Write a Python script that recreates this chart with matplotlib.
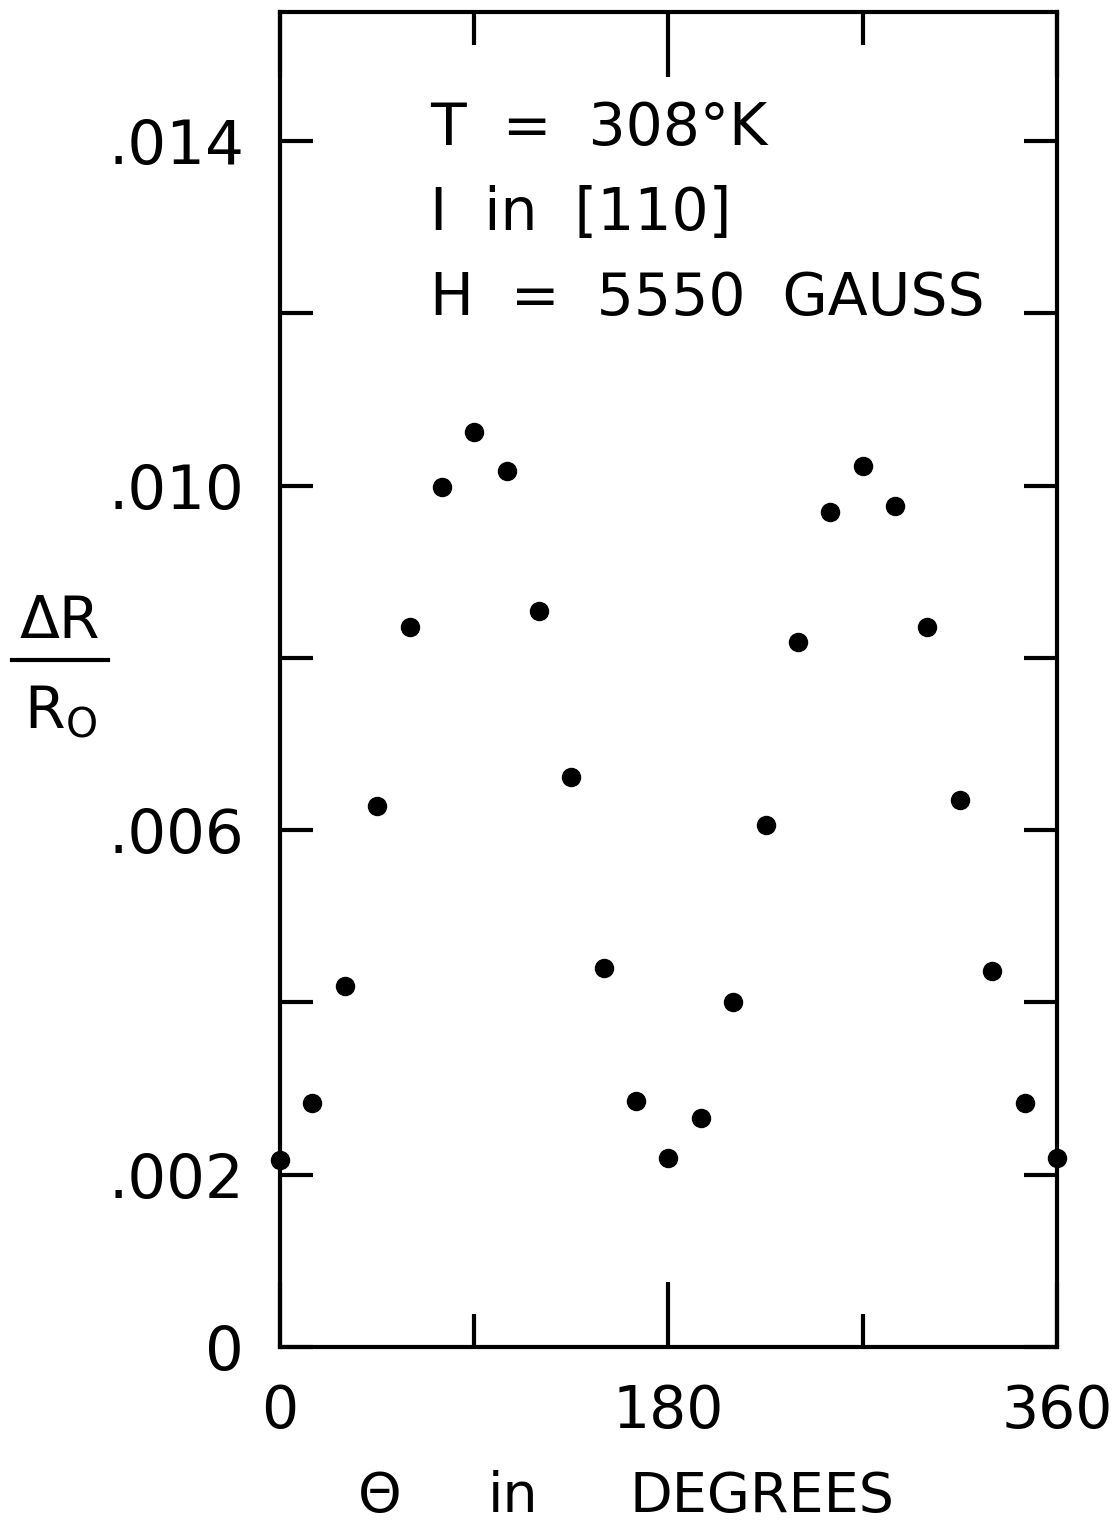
import numpy as np
import matplotlib.pyplot as plt
from matplotlib.lines import Line2D

# angle theta in degrees, every 15 deg
theta = [0, 15, 30, 45, 60, 75, 90, 105, 120, 135, 150, 165, 180,
         195, 210, 225, 240, 255, 270, 285, 300, 315, 330, 345, 360]
# delta R / R0
dR = [0.00217, 0.00283, 0.00419, 0.00628, 0.00836, 0.00998, 0.01062, 0.01017,
      0.00854, 0.00662, 0.00440, 0.00286, 0.00220, 0.00266, 0.00400, 0.00606,
      0.00818, 0.00969, 0.01023, 0.00977, 0.00836, 0.00635, 0.00436, 0.00283,
      0.00220]

yticks = [0, 0.002, 0.004, 0.006, 0.008, 0.010, 0.012, 0.014]
ylabels = ['0', '.002', '', '.006', '', '.010', '', '.014']
xticks = [0, 180, 360]
xlabels = ['0', '180', '360']
xminor = [90, 270]

W, H = 1114, 1525
fig = plt.figure(figsize=(W / 100, H / 100), dpi=100)
ax = fig.add_axes([280 / W, 1 - 1347 / H, (1057 - 280) / W, (1347 - 12) / H])

ax.plot(theta, dR, 'o', color='black', markersize=13, clip_on=False, zorder=5)

ax.set_xlim(0, 360)
ax.set_ylim(0, 0.0155)

for s in ax.spines.values():
    s.set_linewidth(3)

ax.set_xticks(xticks)
ax.set_xticklabels(xlabels, fontsize=42)
ax.set_xticks(xminor, minor=True)
ax.set_yticks(yticks)
ax.set_yticklabels(ylabels, fontsize=44)
ax.tick_params(axis='x', which='major', direction='in', length=47, width=3,
               top=True, pad=26)
ax.tick_params(axis='x', which='minor', direction='in', length=24, width=3,
               top=True)
ax.tick_params(axis='y', which='major', direction='in', length=24, width=3,
               right=True, pad=26)
ax.tick_params(axis='y', which='minor', left=False, right=False)

# y label as a stacked fraction
fig.text(60 / W, 1 - 622 / H, '\u0394R', fontsize=42, ha='center', va='center')
fig.add_artist(Line2D([12 / W, 108 / W], [1 - 660 / H, 1 - 660 / H],
                      color='black', linewidth=3, transform=fig.transFigure))
fig.text(60 / W, 1 - 712 / H, r'R$_{\mathsf{O}}$', fontsize=42,
         ha='center', va='center')

# x label
fig.text(380 / W, 1 - 1497 / H, '\u0398', fontsize=40, ha='center', va='center')
fig.text(513 / W, 1 - 1497 / H, 'in', fontsize=40, ha='center', va='center')
fig.text(762 / W, 1 - 1497 / H, 'DEGREES', fontsize=40, ha='center', va='center')

# conditions
fig.text(430 / W, 1 - 128 / H, 'T  =  308\u00b0K', fontsize=42, va='center')
fig.text(430 / W, 1 - 213 / H, 'I  in  [110]', fontsize=42, va='center')
fig.text(430 / W, 1 - 298 / H, 'H  =  5550  GAUSS', fontsize=42, va='center')

fig.savefig('out.png', dpi=100, facecolor='white')
